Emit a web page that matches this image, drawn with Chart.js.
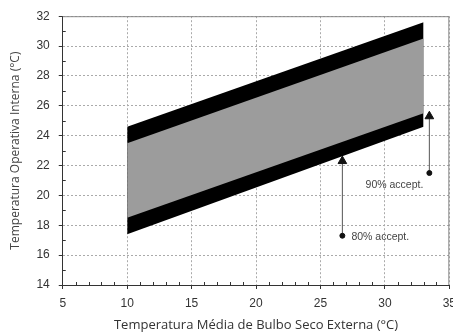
<!DOCTYPE html>
<html>
<head>
<meta charset="utf-8">
<script src="https://cdn.jsdelivr.net/npm/chart.js@4.4.1/dist/chart.umd.min.js"></script>
<style>
  html, body { margin: 0; padding: 0; background: #fff; overflow: hidden; }
  #wrap { width: 463px; height: 333px; }
</style>
</head>
<body>
<div id="wrap"><canvas id="grafico"></canvas></div>
<script>
// Faixas de conforto (extremos, x = 10 e x = 33)
const faixaX = [10, 33];
const limite80Sup = [24.6, 31.6];
const limite90Sup = [23.5, 30.5];
const limite90Inf = [18.5, 25.5];
const limite80Inf = [17.4, 24.6];

// Setas de legenda: [x, y do ponto, y da ponta]
const seta80 = [26.7, 17.3, 22.3];
const seta90 = [33.45, 21.5, 25.3];
const rotulos = ['80% accept.', '90% accept.'];
const rotuloPos = [[27.4, 17.2], [28.5, 20.7]];

const xTicks = [5, 10, 15, 20, 25, 30, 35];
const yTicks = [14, 16, 18, 20, 22, 24, 26, 28, 30, 32];

function linha(ys) {
    return faixaX.map((x, i) => ({ x: x, y: ys[i] }));
}

// traços menores, moldura cinza e rótulos das setas
const extras = {
    id: 'extras',
    afterDraw(chart) {
        const { ctx, chartArea: a, scales: { x, y } } = chart;
        ctx.save();
        ctx.strokeStyle = '#888';
        ctx.lineWidth = 1;
        ctx.beginPath();
        ctx.moveTo(a.left, a.top + 0.5);
        ctx.lineTo(a.right - 0.5, a.top + 0.5);
        ctx.lineTo(a.right - 0.5, a.bottom);
        ctx.stroke();

        ctx.strokeStyle = '#333';
        ctx.beginPath();
        for (let v = 6; v < 35; v++) {
            if (v % 5 === 0) continue;
            const px = Math.round(x.getPixelForValue(v)) + 0.5;
            ctx.moveTo(px, a.bottom);
            ctx.lineTo(px, a.bottom - 3);
        }
        for (let v = 15; v < 32; v += 2) {
            const py = Math.round(y.getPixelForValue(v)) + 0.5;
            ctx.moveTo(a.left, py);
            ctx.lineTo(a.left + 3, py);
        }
        ctx.stroke();

        ctx.fillStyle = '#444';
        ctx.font = '10.5px "Liberation Sans", Arial, sans-serif';
        ctx.textBaseline = 'middle';
        rotulos.forEach((t, i) => {
            ctx.fillText(t, x.getPixelForValue(rotuloPos[i][0]), y.getPixelForValue(rotuloPos[i][1]));
        });
        ctx.restore();
    }
};

function seta(s) {
    return {
        data: [{ x: s[0], y: s[1] }, { x: s[0], y: s[2] }],
        borderColor: '#555',
        borderWidth: 1,
        pointStyle: ['circle', 'triangle'],
        pointRadius: [2.5, 5],
        pointBackgroundColor: '#111',
        pointBorderColor: '#111',
        fill: false
    };
}

new Chart(document.getElementById('grafico'), {
    type: 'line',
    data: {
        datasets: [
            seta(seta80),
            seta(seta90),
            { data: linha(limite90Sup), borderColor: '#999', borderWidth: 0, pointRadius: 0, fill: '+1', backgroundColor: '#9c9c9c' },
            { data: linha(limite90Inf), borderColor: '#999', borderWidth: 0, pointRadius: 0, fill: false },
            { data: linha(limite80Sup), borderColor: '#000', borderWidth: 0, pointRadius: 0, fill: '+1', backgroundColor: '#000' },
            { data: linha(limite80Inf), borderColor: '#000', borderWidth: 0, pointRadius: 0, fill: false }
        ]
    },
    options: {
        responsive: true,
        maintainAspectRatio: false,
        animation: false,
        layout: { padding: { left: 4, top: 14, right: 0, bottom: 0 } },
        plugins: { legend: { display: false }, tooltip: { enabled: false } },
        scales: {
            x: {
                type: 'linear',
                min: 5, max: 35,
                afterBuildTicks: (s) => { s.ticks = xTicks.map(v => ({ value: v })); },
                ticks: { color: '#333', font: { size: 12, family: '"Liberation Sans", Arial, sans-serif' }, padding: 7 },
                grid: { color: '#aaa', tickColor: '#333', tickLength: 4 },
                border: { color: '#333', width: 1, dash: [2, 2] },
                title: {
                    display: true,
                    text: 'Temperatura Média de Bulbo Seco Externa (°C)',
                    color: '#333',
                    font: { size: 13, family: '"Open Sans", "Liberation Sans", sans-serif' },
                    padding: { top: 0, bottom: 0 }
                }
            },
            y: {
                type: 'linear',
                min: 14, max: 32,
                afterBuildTicks: (s) => { s.ticks = yTicks.map(v => ({ value: v })); },
                ticks: { color: '#333', font: { size: 12, family: '"Liberation Sans", Arial, sans-serif' }, padding: 9 },
                grid: { color: '#aaa', tickColor: '#333', tickLength: 4 },
                border: { color: '#333', width: 1, dash: [2, 2] },
                title: {
                    display: true,
                    text: 'Temperatura Operativa Interna (°C)',
                    color: '#444',
                    font: { size: 12, family: '"Open Sans", "Liberation Sans", sans-serif' },
                    padding: { top: 4, bottom: 5 }
                }
            }
        }
    },
    plugins: [extras]
});
</script>
</body>
</html>
